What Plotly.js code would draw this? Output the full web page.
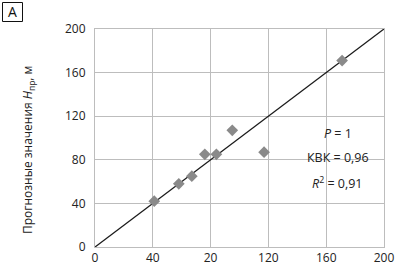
<!DOCTYPE html>
<html><head><meta charset="utf-8">
<script src="https://cdn.plot.ly/plotly-3.0.1.min.js"></script>
<style>html,body{margin:0;padding:0;background:#fff}#c{width:396px;height:268px}</style>
</head><body><div id="c"></div>
<script>
const observed = [41, 58, 67, 76, 84, 95, 117, 171];
const predicted = [42, 58, 65, 85, 85, 107, 87, 171];
const lineX = [0, 200];
const lineY = [0, 200];
const xTickVals = [0, 40, 80, 120, 160, 200];
const xTickText = ['0', '40', '20', '120', '160', '200'];
const yTickVals = [0, 40, 80, 120, 160, 200];

const F = 'Open Sans, Noto Sans, sans-serif';
const traces = [
  {x: lineX, y: lineY, mode: 'lines', line: {color: '#1a1a1a', width: 1.3}, hoverinfo: 'skip'},
  {x: observed, y: predicted, mode: 'markers', marker: {symbol: 'diamond', size: 9, color: '#8a8a8a'}}
];
const ax = {
  range: [0, 200], showgrid: true, gridcolor: '#bdbdbd', gridwidth: 1,
  zeroline: false, showline: true, linecolor: '#bdbdbd', mirror: true,
  ticks: '', tickfont: {family: F, size: 12, color: '#222'}
};
const W = 289, H = 218, L = 95, B = 247;
const px = v => (v - L) / W;
const py = v => (B - v) / H;
const layout = {
  width: 396, height: 268, showlegend: false,
  margin: {l: 95, r: 12, t: 29, b: 21},
  paper_bgcolor: '#fff', plot_bgcolor: '#fff',
  xaxis: Object.assign({}, ax, {tickvals: xTickVals, ticktext: xTickText}),
  yaxis: Object.assign({}, ax, {tickvals: yTickVals, ticklabelstandoff: 6}),
  shapes: [
    {type: 'rect', xref: 'paper', yref: 'paper', x0: px(2.5), x1: px(22.5), y0: py(2.5), y1: py(21.5),
     line: {color: '#111', width: 1}, fillcolor: 'rgba(0,0,0,0)'}
  ],
  annotations: [
    {xref: 'paper', yref: 'paper', x: px(28), y: py(150), xanchor: 'center', yanchor: 'middle', textangle: -90,
     text: 'Прогнозные значения <i>H</i><sub>пр</sub>, м',
     showarrow: false, font: {family: F, size: 12, color: '#222'}},
    {xref: 'x', yref: 'y', x: 168, y: 104, text: '<i>P</i> = 1', showarrow: false, font: {family: F, size: 12.5, color: '#222'}},
    {xref: 'x', yref: 'y', x: 168, y: 82, text: 'КВК = 0,96', showarrow: false, font: {family: F, size: 12.5, color: '#222'}},
    {xref: 'x', yref: 'y', x: 168, y: 59, text: '<i>R</i><sup>2</sup> = 0,91', showarrow: false, font: {family: F, size: 12.5, color: '#222'}},
    {xref: 'paper', yref: 'paper', x: px(12.5), y: py(12), xanchor: 'center', yanchor: 'middle', text: 'A', showarrow: false,
     font: {family: F, size: 14, color: '#111'}}
  ]
};
Plotly.newPlot('c', traces, layout, {staticPlot: true, displayModeBar: false});
</script></body></html>
